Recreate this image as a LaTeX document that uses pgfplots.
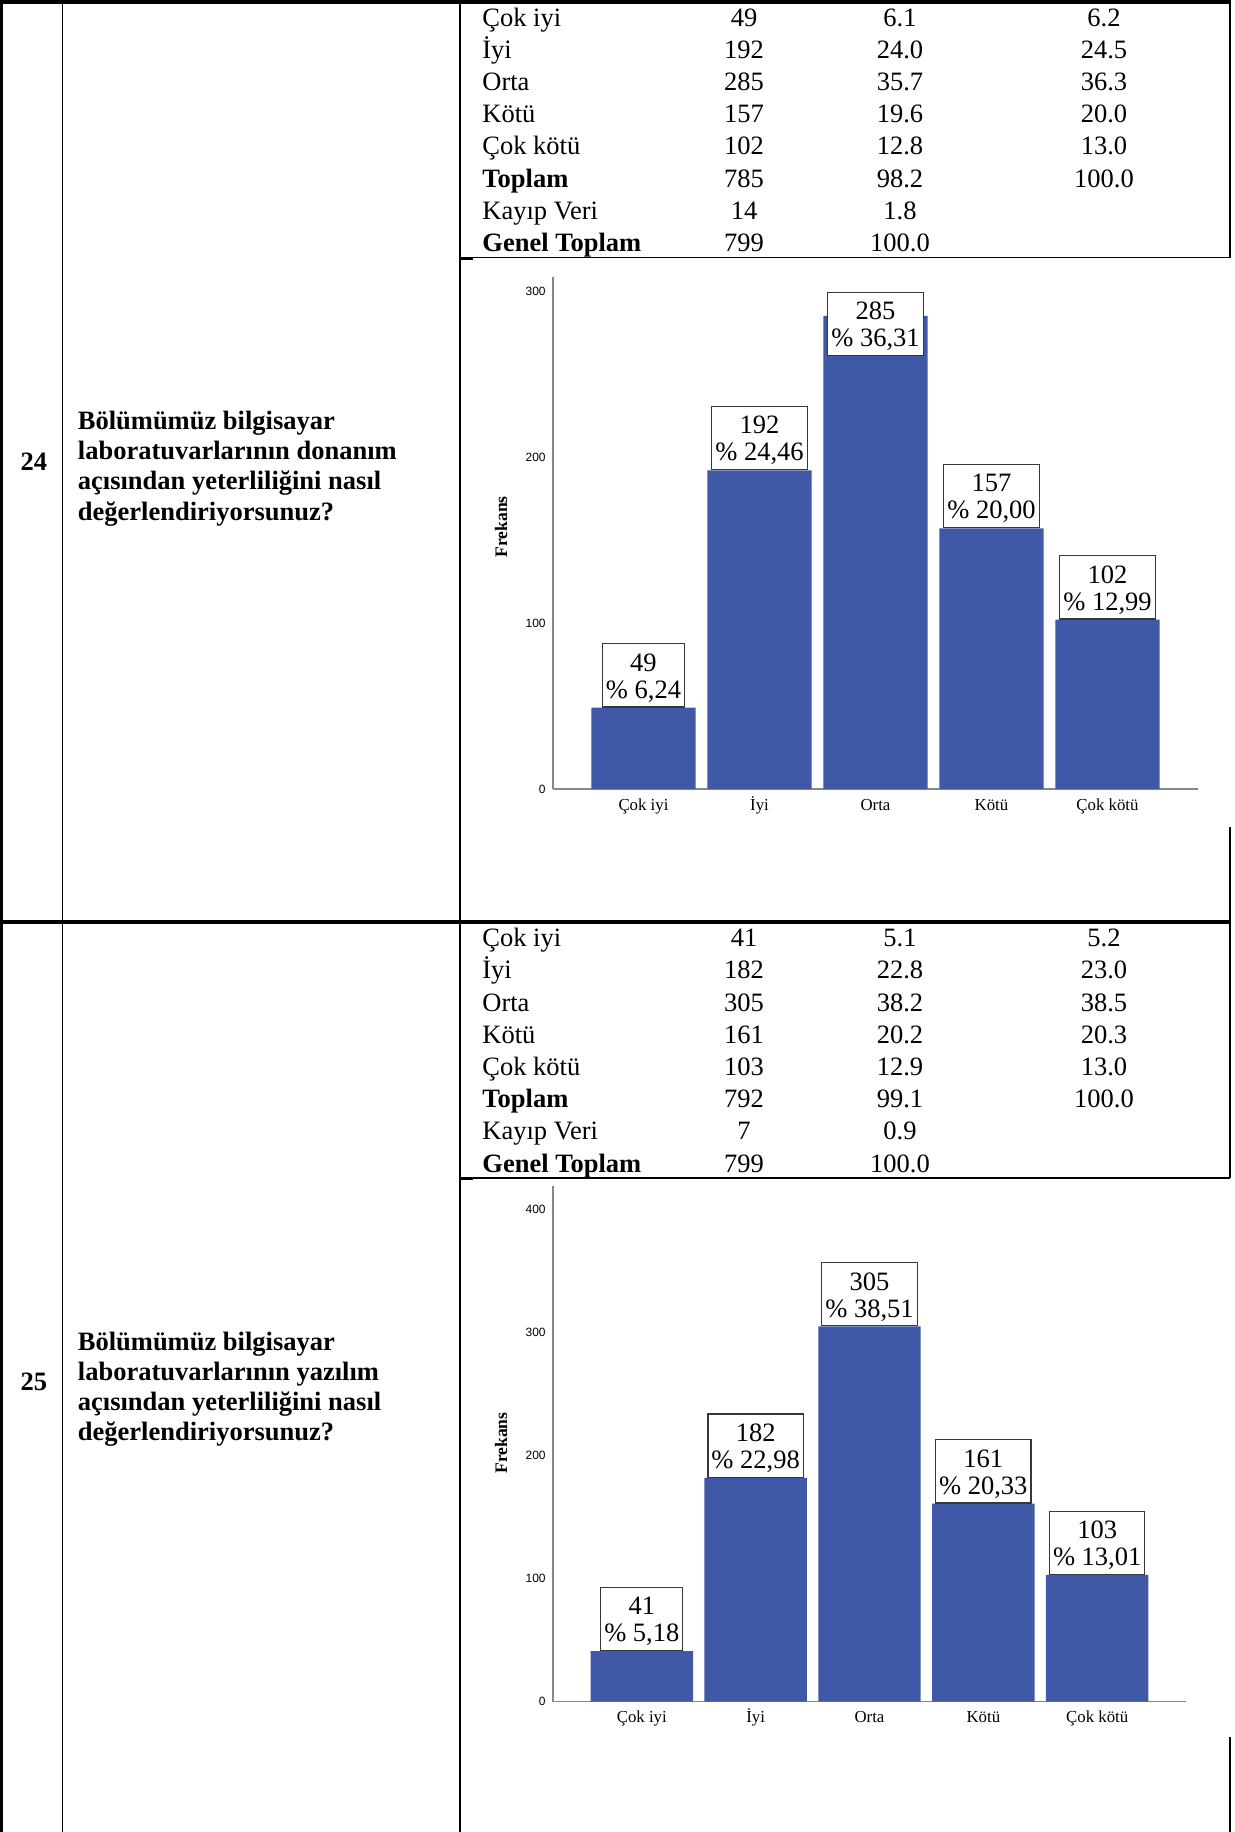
\documentclass[border=0pt]{standalone}
\usepackage{fontspec}
\setmainfont{Liberation Serif}
\setsansfont{Liberation Sans}
\usepackage{pgfplots}
\pgfplotsset{compat=1.18}
\definecolor{barblue}{RGB}{63,89,167}
\definecolor{axgray}{RGB}{135,135,135}
\definecolor{boxgray}{RGB}{55,55,55}
\newcommand\bx[2]{\rule{0pt}{13.7pt}#1\\\% #2\rule[-4.4pt]{0pt}{4.4pt}}
\newcommand\tabrow[5]{%
  \node[anchor=base west] at (482,#1) {#2};
  \node[anchor=base] at (744,#1) {#3};
  \node[anchor=base] at (900,#1) {#4};
  \node[anchor=base] at (1104,#1) {#5};}
\tikzset{lbl/.style={draw=boxgray, line width=0.6pt, fill=white, align=center,
      inner xsep=1.75pt, inner ysep=0pt, font=\fontsize{13.25}{13.5}\selectfont}}
\pgfplotsset{
  spss/.style={
    scale only axis, anchor=south west,
    xmin=-0.78, xmax=4.78, ymin=0,
    axis lines=left,
    axis line style={-, draw=axgray, line width=0.6pt},
    xtick={0,1,2,3,4},
    xticklabels={Çok iyi, İyi, Orta, Kötü, Çok kötü},
    major tick length=0pt,
    tick style={draw=none},
    xticklabel style={font=\fontsize{8.4}{10}\selectfont, anchor=base, yshift=-10.5pt, inner sep=0pt},
    yticklabel style={font=\sffamily\fontsize{6}{7}\selectfont, anchor=east, inner sep=0pt, xshift=-3.5pt},
    /pgf/number format/assume math mode=true,
    ylabel={Frekans},
    clip=false,
  }
}
\begin{document}
\begin{tikzpicture}
\begin{scope}[x=0.5pt, y=-0.5pt, every node/.style={inner sep=0pt, font=\fontsize{13.25}{16}\selectfont}]
\useasboundingbox (0,0) rectangle (1235,1832);
% frame
\draw[line width=1.5pt] (1.5,0) -- (1.5,1832);
\draw[line width=2pt] (0,2) -- (1231,2);
\draw[line width=0.75pt] (62.5,0) -- (62.5,1832);
\draw[line width=0.75pt] (460,0) -- (460,1832);
\draw[line width=2pt] (0,922) -- (1231,922);
\draw[line width=1pt] (1229.5,0) -- (1229.5,257.5);
\draw[line width=1pt] (1229.5,827) -- (1229.5,922);
\draw[line width=1pt] (1229.5,922) -- (1229.5,1178);
\draw[line width=1pt] (1229.5,1737) -- (1229.5,1832);
\draw[line width=0.6pt] (460,257.5) -- (1230,257.5);
\draw[line width=1pt] (460,258.5) -- (473,258.5);
\draw[line width=0.6pt] (460,1178) -- (1230,1178);
\draw[line width=1pt] (460,1179) -- (473,1179);
% row 24
\node[anchor=base, font=\bfseries\fontsize{13.25}{16}\selectfont] at (34,470) {24};
\begin{scope}[every node/.append style={anchor=base west, font=\bfseries\fontsize{13.25}{16}\selectfont}]
\node at (77.5,429.3) {Bölümümüz bilgisayar};
\node at (77.5,459.6) {laboratuvarlarının donanım};
\node at (77.5,489.9) {açısından yeterliliğini nasıl};
\node at (77.5,520.2) {değerlendiriyorsunuz?};
\end{scope}
\tabrow{26}{Çok iyi}{49}{6.1}{6.2}
\tabrow{58.2}{İyi}{192}{24.0}{24.5}
\tabrow{90.4}{Orta}{285}{35.7}{36.3}
\tabrow{122.6}{Kötü}{157}{19.6}{20.0}
\tabrow{154.8}{Çok kötü}{102}{12.8}{13.0}
\tabrow{187}{\textbf{Toplam}}{785}{98.2}{100.0}
\tabrow{219.2}{Kayıp Veri}{14}{1.8}{}
\tabrow{251.4}{\textbf{Genel Toplam}}{799}{100.0}{}
% row 25
\node[anchor=base, font=\bfseries\fontsize{13.25}{16}\selectfont] at (34,1390.7) {25};
\begin{scope}[every node/.append style={anchor=base west, font=\bfseries\fontsize{13.25}{16}\selectfont}]
\node at (77.5,1350) {Bölümümüz bilgisayar};
\node at (77.5,1380.3) {laboratuvarlarının yazılım};
\node at (77.5,1410.6) {açısından yeterliliğini nasıl};
\node at (77.5,1440.9) {değerlendiriyorsunuz?};
\end{scope}
\tabrow{946.7}{Çok iyi}{41}{5.1}{5.2}
\tabrow{978.9}{İyi}{182}{22.8}{23.0}
\tabrow{1011.1}{Orta}{305}{38.2}{38.5}
\tabrow{1043.3}{Kötü}{161}{20.2}{20.3}
\tabrow{1075.5}{Çok kötü}{103}{12.9}{13.0}
\tabrow{1107.7}{\textbf{Toplam}}{792}{99.1}{100.0}
\tabrow{1139.9}{Kayıp Veri}{7}{0.9}{}
\tabrow{1172.1}{\textbf{Genel Toplam}}{799}{100.0}{}
\end{scope}

% chart 24
\begin{axis}[spss,
  at={(276.5pt,-394.5pt)}, width=322.5pt, height=256pt,
  ymax=308.4, ytick={0,100,200,300},
  every axis y label/.style={at={(axis description cs:-0.0806,0.512)}, rotate=90, anchor=center,
    font=\bfseries\fontsize{8.8}{10}\selectfont},
]
\addplot[ybar, bar width=0.9, fill=barblue, draw=none] coordinates {(0,49) (1,192) (2,285) (3,157) (4,102)};
\node[lbl, anchor=south] at (axis cs:0,49) {\bx{49}{6,24}};
\node[lbl, anchor=south] at (axis cs:1,192) {\bx{192}{24,46}};
\node[lbl, anchor=north] at (axis cs:2,299.4) {\bx{285}{36,31}};
\node[lbl, anchor=south] at (axis cs:3,157) {\bx{157}{20,00}};
\node[lbl, anchor=south] at (axis cs:4,102) {\bx{102}{12,99}};
\end{axis}

% chart 25
\begin{axis}[spss,
  at={(276.5pt,-850.8pt)}, width=316.5pt, height=257.8pt,
  ymax=419.2, ytick={0,100,200,300,400},
  every axis y label/.style={at={(axis description cs:-0.0821,0.5015)}, rotate=90, anchor=center,
    font=\bfseries\fontsize{8.8}{10}\selectfont},
]
\addplot[ybar, bar width=0.9, fill=barblue, draw=none] coordinates {(0,41) (1,182) (2,305) (3,161) (4,103)};
\node[lbl, anchor=south] at (axis cs:0,41) {\bx{41}{5,18}};
\node[lbl, anchor=south] at (axis cs:1,182) {\bx{182}{22,98}};
\node[lbl, anchor=south] at (axis cs:2,305) {\bx{305}{38,51}};
\node[lbl, anchor=south] at (axis cs:3,161) {\bx{161}{20,33}};
\node[lbl, anchor=south] at (axis cs:4,103) {\bx{103}{13,01}};
\end{axis}
\end{tikzpicture}
\end{document}
